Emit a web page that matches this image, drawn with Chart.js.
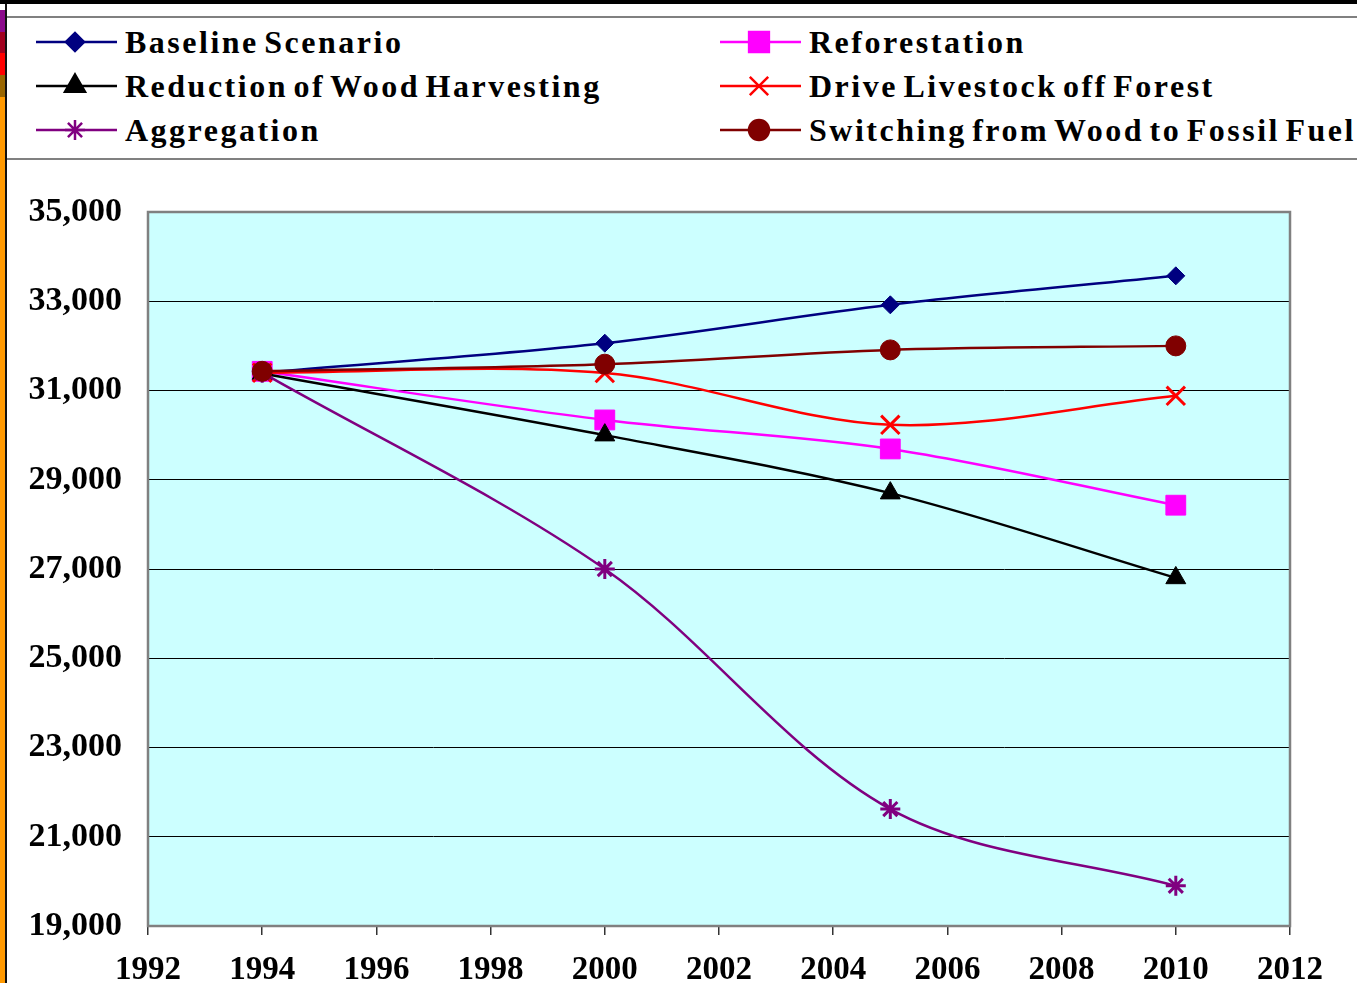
<!DOCTYPE html>
<html>
<head>
<meta charset="utf-8">
<script src="https://cdn.jsdelivr.net/npm/chart.js@4"></script>
<style>
  body { margin:0; background:#fff; width:1357px; height:983px; overflow:hidden; position:relative; }
  #mychart { position:absolute; left:0; top:0; }
  .bar { position:absolute; }
  #legend { position:absolute; left:7px; right:0; top:16px; height:140px; border-top:2px solid #808080; border-bottom:2px solid #808080; background:#fff; }
  .item { position:absolute; height:40px; }
  .item canvas { position:absolute; left:0; top:0; }
  .item span { position:absolute; left:91px; top:0; line-height:40px; white-space:nowrap;
    font-family:"Liberation Serif","Times New Roman",serif; font-weight:bold; font-size:32px; letter-spacing:2.5px; word-spacing:-5px; color:#000; }
</style>
</head>
<body>
<!-- strips on the left / top edge of the slide -->
<div class="bar" style="left:0;top:0;width:1357px;height:4px;background:#000"></div>
<div class="bar" style="left:0;top:10px;width:5px;height:22px;background:#8b0a8b"></div>
<div class="bar" style="left:0;top:32px;width:5px;height:21px;background:#a0001e"></div>
<div class="bar" style="left:0;top:53px;width:5px;height:22px;background:#ff0000"></div>
<div class="bar" style="left:0;top:75px;width:5px;height:22px;background:#996600"></div>
<div class="bar" style="left:0;top:97px;width:5px;height:886px;background:#ff9900"></div>
<div class="bar" style="left:5px;top:4px;width:2px;height:979px;background:#111"></div>

<canvas id="mychart" width="1357" height="983"></canvas>
<div id="legend"></div>

<script>
// data
var years = [1994, 2000, 2005, 2010];
var baseline      = [31400, 32060, 32920, 33570];
var reforestation = [31430, 30340, 29690, 28430];
var reduction     = [31380, 30000, 28700, 26800];
var livestock     = [31400, 31390, 30230, 30880];
var aggregation   = [31400, 27000, 21620, 19900];
var switching     = [31430, 31590, 31910, 32000];

var names = ["Baseline Scenario", "Reforestation", "Reduction of Wood Harvesting",
  "Drive Livestock off Forest", "Aggregation", "Switching from Wood to Fossil Fuel"];
var series = [baseline, reforestation, reduction, livestock, aggregation, switching];
var colors = ["#000080", "#ff00ff", "#000000", "#ff0000", "#800080", "#800000"];
var markers = ["rectRot", "rect", "triangle", "crossRot", "star", "circle"];
var sizes = [9, 14, 11.5, 13, 10, 10];

var serif = "'Liberation Serif','Times New Roman',serif";

var datasets = series.map(function (vals, i) {
  return {
    label: names[i],
    data: years.map(function (y, j) { return { x: y, y: vals[j] }; }),
    borderColor: colors[i],
    backgroundColor: colors[i],
    borderWidth: 2.5,
    tension: 0.33,
    pointStyle: markers[i],
    pointRadius: sizes[i],
    pointBorderWidth: (markers[i] == "crossRot" || markers[i] == "star") ? 3 : 1,
    order: 5 - i   // last series on top like excel
  };
});

// cyan plot background + grey frame
var plotArea = {
  id: "plotArea",
  beforeDraw: function (chart) {
    var a = chart.chartArea, ctx = chart.ctx;
    ctx.save();
    ctx.fillStyle = "#ccffff";
    ctx.fillRect(a.left, a.top, a.right - a.left, a.bottom - a.top);
    ctx.restore();
  },
  beforeDatasetsDraw: function (chart) {
    var a = chart.chartArea, ctx = chart.ctx;
    ctx.save();
    ctx.strokeStyle = "#808080";
    ctx.lineWidth = 2.5;
    ctx.strokeRect(a.left, a.top, a.right - a.left, a.bottom - a.top);
    ctx.restore();
  }
};

var mychart = new Chart("mychart", {
  type: "line",
  data: { datasets: datasets },
  options: {
    responsive: false,
    animation: false,
    devicePixelRatio: 1,
    layout: { padding: { top: 212, right: 67, left: 0, bottom: 0 } },
    plugins: {
      legend: { display: false },
      tooltip: { enabled: false }
    },
    scales: {
      x: {
        type: "linear",
        min: 1992, max: 2012,
        afterFit: function (s) { s.height = 57; },
        ticks: {
          stepSize: 2,
          padding: 16,
          color: "#000",
          maxRotation: 0,
          font: { family: serif, size: 33, weight: "bold" },
          callback: function (v) { return String(v); }
        },
        grid: { drawOnChartArea: false, drawTicks: true, tickLength: 9, color: "#333", lineWidth: 1.5 },
        border: { display: false }
      },
      y: {
        min: 19000, max: 35000,
        afterFit: function (s) { s.width = 148; },
        ticks: {
          stepSize: 2000,
          padding: 26,
          color: "#000",
          font: { family: serif, size: 34, weight: "bold" },
          callback: function (v) { return v.toLocaleString("en-US"); }
        },
        grid: { color: "#000", lineWidth: 1, drawTicks: false },
        border: { display: false }
      }
    }
  },
  plugins: [plotArea]
});

// html legend, two columns filled row by row like the original
var leg = document.getElementById("legend");
datasets.forEach(function (ds, i) {
  var row = Math.floor(i / 2), col = i % 2;
  var item = document.createElement("div");
  item.className = "item";
  item.style.left = (col == 0 ? 27 : 711) + "px";
  item.style.top = (4 + row * 44) + "px";
  var c = document.createElement("canvas");
  c.width = 86; c.height = 40;
  var ctx = c.getContext("2d");
  ctx.strokeStyle = ds.borderColor;
  ctx.fillStyle = ds.backgroundColor;
  ctx.lineWidth = 2.5;
  ctx.beginPath(); ctx.moveTo(2, 20); ctx.lineTo(83, 20); ctx.stroke();
  Chart.helpers.drawPoint(ctx, {
    pointStyle: ds.pointStyle, radius: ds.pointRadius, rotation: 0,
    borderWidth: ds.pointBorderWidth
  }, 41, 20);
  var t = document.createElement("span");
  t.textContent = ds.label;
  item.appendChild(c);
  item.appendChild(t);
  leg.appendChild(item);
});
</script>
</body>
</html>
